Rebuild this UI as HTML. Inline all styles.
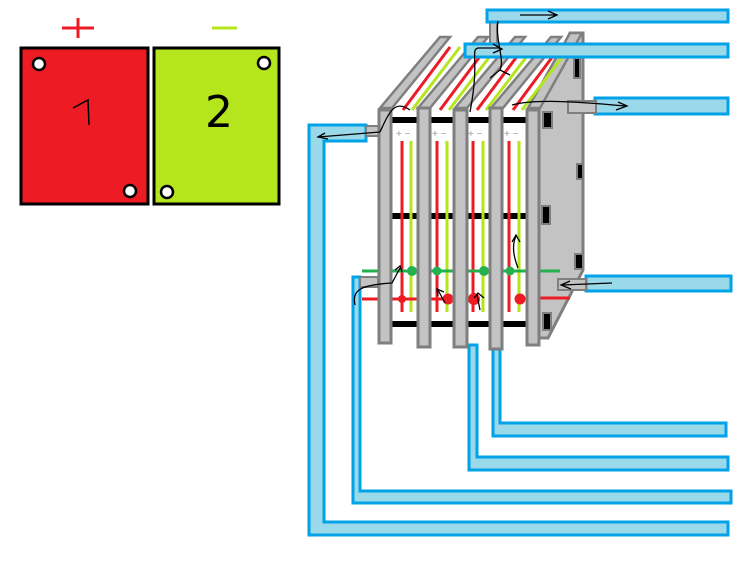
<!DOCTYPE html>
<html><head><style>html,body{margin:0;padding:0;background:#fff;width:750px;height:581px;overflow:hidden}</style></head>
<body>
<svg width="750" height="581" viewBox="0 0 750 581" xmlns="http://www.w3.org/2000/svg">
<!-- left panels -->
<line x1="62" y1="28" x2="94" y2="28" stroke="#ed1c24" stroke-width="3"/>
<line x1="78" y1="18" x2="78" y2="38" stroke="#ed1c24" stroke-width="3"/>
<line x1="212" y1="28" x2="237" y2="28" stroke="#b5e61d" stroke-width="3"/>
<rect x="21" y="48" width="127" height="156" fill="#ed1c24" stroke="#000" stroke-width="3"/>
<rect x="154" y="48" width="125" height="156" fill="#b5e61d" stroke="#000" stroke-width="3"/>
<circle cx="39" cy="64" r="6" fill="#fff" stroke="#000" stroke-width="2.5"/>
<circle cx="130" cy="191" r="6" fill="#fff" stroke="#000" stroke-width="2.5"/>
<circle cx="264" cy="63" r="6" fill="#fff" stroke="#000" stroke-width="2.5"/>
<circle cx="167" cy="192" r="6" fill="#fff" stroke="#000" stroke-width="2.5"/>
<path d="M73 108 L88 100 L89 125" fill="none" stroke="#000" stroke-width="1.5"/>
<text x="205" y="127" font-family="DejaVu Sans, sans-serif" font-size="44" fill="#000">2</text>

<!-- lower pipes -->
<g fill="#99d9ea" stroke="#00a2e8" stroke-width="3">
<path d="M309 125 H366 V141 H324 V522 H728 V535 H309 Z"/>
<path d="M353 277 H360 V491 H731 V503 H353 Z"/>
<path d="M469 345 H477 V457 H728 V470 H469 Z"/>
<path d="M493 345 H500 V423 H726 V436 H493 Z"/>
<rect x="595" y="98" width="133" height="16"/>
<rect x="586" y="276" width="145" height="15"/>
</g>

<!-- right side panel -->
<polygon points="538,105 570,33 583,33 583,270 548,338 538,338" fill="#c3c3c3" stroke="#7f7f7f" stroke-width="3"/>
<g fill="#000" stroke="#7f7f7f" stroke-width="2">
<rect x="574" y="58" width="6" height="20"/><rect x="543" y="112" width="9" height="16"/>
<rect x="577" y="164" width="6" height="15"/><rect x="542" y="206" width="8" height="18"/>
<rect x="575" y="254" width="8" height="15"/><rect x="543" y="313" width="8" height="17"/>
</g>
<rect x="568" y="101" width="28" height="12" fill="#c3c3c3" stroke="#7f7f7f" stroke-width="2"/>
<rect x="558" y="279" width="28" height="11" fill="#c3c3c3" stroke="#7f7f7f" stroke-width="2"/>
<rect x="366" y="126" width="14" height="10" fill="#c3c3c3" stroke="#7f7f7f" stroke-width="2"/>
<rect x="360" y="277" width="18" height="10" fill="#c3c3c3" stroke="#7f7f7f" stroke-width="2"/>

<!-- diagonal top plates -->
<g fill="#c3c3c3" stroke="#7f7f7f" stroke-width="2.5">
<polygon points="380,108 440,37 450,37 392,108"/>
<polygon points="418,108 478,37 488,37 430,108"/>
<polygon points="455,108 515,37 525,37 467,108"/>
<polygon points="491,108 551,37 561,37 503,108"/>
<polygon points="528,108 570,33 582,33 540,108"/>
</g>
<g stroke-width="3">
<line x1="403" y1="110" x2="450" y2="47" stroke="#ed1c24"/><line x1="412" y1="110" x2="460" y2="47" stroke="#b5e61d"/>
<line x1="440" y1="110" x2="487" y2="47" stroke="#ed1c24"/><line x1="449" y1="110" x2="497" y2="47" stroke="#b5e61d"/>
<line x1="477" y1="110" x2="524" y2="47" stroke="#ed1c24"/><line x1="486" y1="110" x2="534" y2="47" stroke="#b5e61d"/>
<line x1="513" y1="110" x2="556" y2="52" stroke="#ed1c24"/><line x1="522" y1="110" x2="566" y2="52" stroke="#b5e61d"/>
</g>

<!-- top pipes (in front) -->
<rect x="490" y="22" width="7" height="24" fill="#c3c3c3" stroke="#7f7f7f" stroke-width="2"/>
<g fill="#99d9ea" stroke="#00a2e8" stroke-width="3">
<rect x="487" y="10" width="241" height="12"/>
<rect x="465" y="44" width="263" height="13"/>
</g>

<!-- front cells -->
<rect x="390" y="112" width="138" height="226" fill="#fff"/>
<g fill="#000">
<rect x="390" y="117" width="138" height="6"/><rect x="390" y="213" width="138" height="6"/><rect x="390" y="321" width="138" height="6"/>
</g>
<g font-family="Liberation Sans, sans-serif" font-size="10" fill="#999">
<text x="396" y="137">+ −</text><text x="432" y="137">+ −</text><text x="468" y="137">+ −</text><text x="504" y="137">+ −</text>
</g>
<g stroke-width="3">
<line x1="402" y1="141" x2="402" y2="312" stroke="#ed1c24"/><line x1="411" y1="141" x2="411" y2="312" stroke="#b5e61d"/>
<line x1="437" y1="141" x2="437" y2="312" stroke="#ed1c24"/><line x1="447" y1="141" x2="447" y2="312" stroke="#b5e61d"/>
<line x1="473" y1="141" x2="473" y2="312" stroke="#ed1c24"/><line x1="483" y1="141" x2="483" y2="312" stroke="#b5e61d"/>
<line x1="509" y1="141" x2="509" y2="312" stroke="#ed1c24"/><line x1="519" y1="141" x2="519" y2="312" stroke="#b5e61d"/>
</g>
<line x1="362" y1="271" x2="560" y2="271" stroke="#22b14c" stroke-width="3"/>
<line x1="362" y1="299" x2="460" y2="299" stroke="#ed1c24" stroke-width="3"/>
<line x1="537" y1="298" x2="570" y2="298" stroke="#ed1c24" stroke-width="3"/>
<g fill="#22b14c"><circle cx="412" cy="271" r="5"/><circle cx="437" cy="271" r="4.5"/><circle cx="484" cy="271" r="5"/><circle cx="510" cy="271" r="4.5"/></g>
<g fill="#ed1c24"><circle cx="402" cy="299" r="4"/><circle cx="448" cy="299" r="5.5"/><circle cx="474" cy="299" r="6"/><circle cx="520" cy="299" r="5.5"/></g>

<!-- front vertical plates -->
<g fill="#c3c3c3" stroke="#7f7f7f" stroke-width="3">
<rect x="379" y="110" width="12" height="233"/>
<rect x="418" y="108" width="12" height="239"/>
<rect x="454" y="110" width="13" height="237"/>
<rect x="490" y="108" width="12" height="241"/>
<rect x="527" y="110" width="12" height="235"/>
</g>

<!-- flow arrows -->
<g fill="none" stroke="#000" stroke-width="1.3">
<path d="M380 132 C390 110 395 100 410 110 M380 132 L318 137 M325 133 L318 137 L328 139"/>
<path d="M520 15 H555 M548 11 L557 15 L548 19"/>
<path d="M498 21 C495 40 505 60 500 70 L490 78 M500 70 L510 75"/>
<path d="M470 112 C480 60 470 50 478 48 H500 M493 44 L502 49 L493 53"/>
<path d="M512 105 C530 100 560 100 625 106 M618 102 L627 106 L616 110"/>
<path d="M612 283 L562 285 M570 281 L561 285 L571 289"/>
<path d="M355 305 C352 290 360 285 392 283 L400 268 M395 270 L400 266 L402 272"/>
<path d="M518 268 C513 255 512 245 516 236 M512 242 L516 235 L520 242"/>
<path d="M445 303 L438 290 M438 296 L437 289 L444 292"/>
<path d="M480 310 L477 295 M474 298 L478 293 L484 298"/>
</g>
</svg>
</body></html>
